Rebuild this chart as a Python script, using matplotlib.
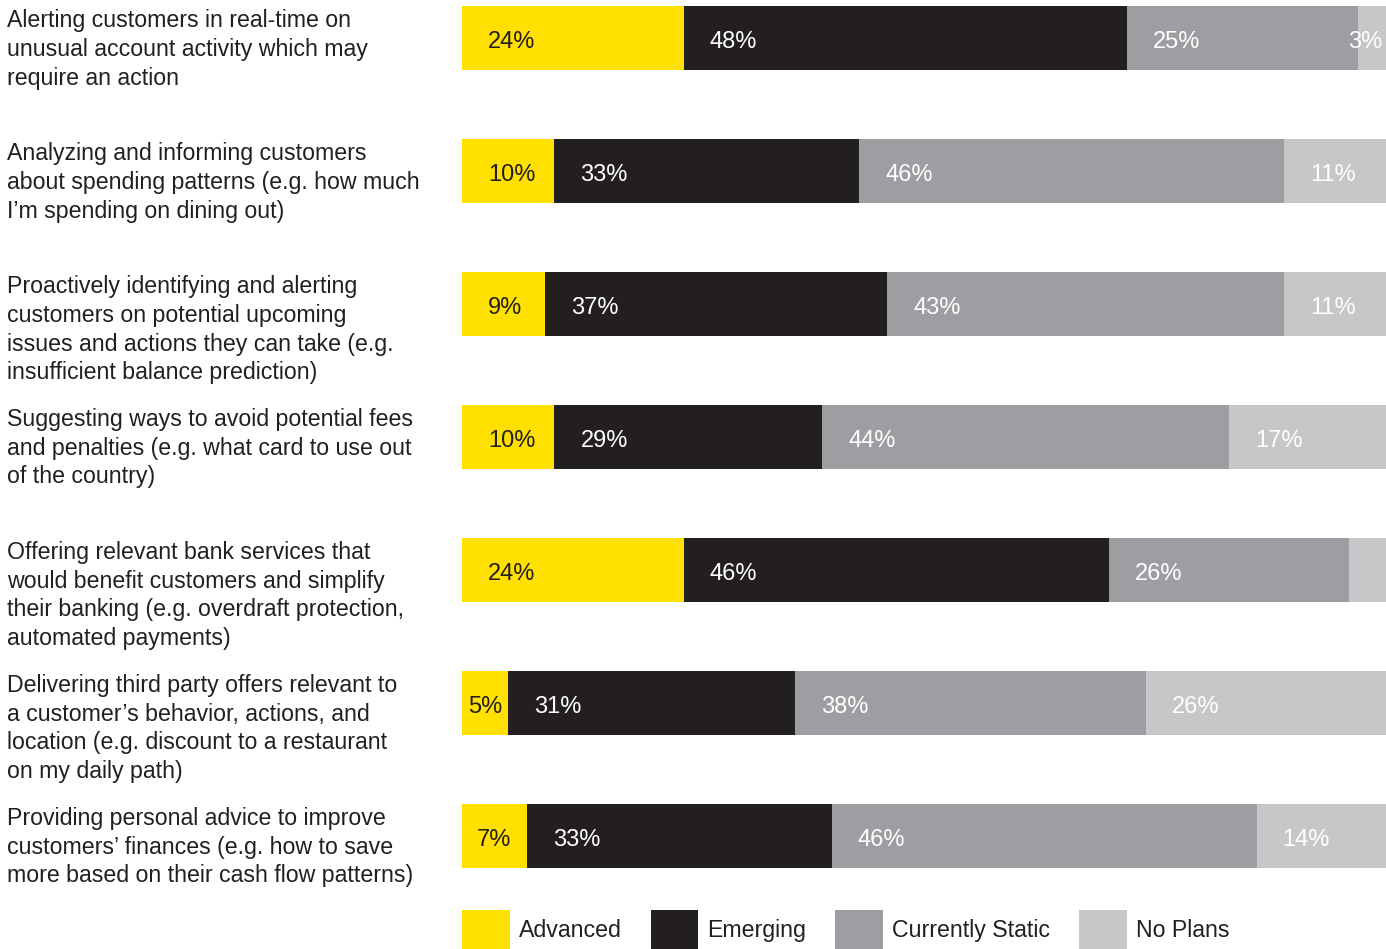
import matplotlib
matplotlib.use("Agg")
import matplotlib.pyplot as plt
from matplotlib.patches import Patch
from matplotlib.transforms import blended_transform_factory

plt.rcParams['font.family'] = ['Liberation Sans', 'DejaVu Sans']

categories = [
    "Alerting customers in real-time on\nunusual account activity which may\nrequire an action",
    "Analyzing and informing customers\nabout spending patterns (e.g. how much\nI\u2019m spending on dining out)",
    "Proactively identifying and alerting\ncustomers on potential upcoming\nissues and actions they can take (e.g.\ninsufficient balance prediction)",
    "Suggesting ways to avoid potential fees\nand penalties (e.g. what card to use out\nof the country)",
    "Offering relevant bank services that\nwould benefit customers and simplify\ntheir banking (e.g. overdraft protection,\nautomated payments)",
    "Delivering third party offers relevant to\na customer\u2019s behavior, actions, and\nlocation (e.g. discount to a restaurant\non my daily path)",
    "Providing personal advice to improve\ncustomers\u2019 finances (e.g. how to save\nmore based on their cash flow patterns)",
]

series_names = ["Advanced", "Emerging", "Currently Static", "No Plans"]
advanced = [24, 10, 9, 10, 24, 5, 7]
emerging = [48, 33, 37, 29, 46, 31, 33]
static = [25, 46, 43, 44, 26, 38, 46]
no_plans = [3, 11, 11, 17, 4, 26, 14]
# segments without a printed value
unlabeled = {(4, 3)}

colors = ["#FFE000", "#231F20", "#9D9EA2", "#C6C7C9"]
text_colors = ["#231F20", "white", "white", "white"]

W, H = 1386, 949
fig = plt.figure(figsize=(W / 100, H / 100), dpi=100)

bar_h = 0.482
n = len(categories)
ax = fig.add_axes([462 / W, 1 - 868 / H, 1 - 462 / W, (868 - 6) / H])
ax.set_xlim(0, 100)
ax.set_ylim(n - 1 + bar_h / 2, -bar_h / 2)
ax.axis("off")

series = [advanced, emerging, static, no_plans]
px_per_unit = (W - 462) / 100.0
fs_val = 17
lefts = [0] * n
for s, (vals, col, tcol) in enumerate(zip(series, colors, text_colors)):
    ax.barh(range(n), vals, left=lefts, height=bar_h, color=col,
            edgecolor="none", label=series_names[s])
    for i, v in enumerate(vals):
        if (i, s) in unlabeled:
            continue
        width_px = v * px_per_unit
        y = i + 0.03
        if width_px < 40 and s == len(series) - 1:
            # too narrow for its label: keep it inside the bar end
            ax.text(100 - 4 / px_per_unit, y, f"{v}%", ha="right",
                    va="center", color=tcol, fontsize=fs_val)
        elif width_px < 70:
            ax.text(lefts[i] + v / 2, y, f"{v}%", ha="center",
                    va="center", color=tcol, fontsize=fs_val)
        else:
            ax.text(lefts[i] + 26 / px_per_unit, y, f"{v}%",
                    ha="left", va="center", color=tcol, fontsize=fs_val)
    lefts = [l + v for l, v in zip(lefts, vals)]

trans = blended_transform_factory(fig.transFigure, ax.transData)
for i, cat in enumerate(categories):
    fig.text(7 / W, i - bar_h / 2 + 0.02, cat, transform=trans, ha="left",
             va="top", fontsize=16.7, color="#231F20", linespacing=1.33)

handles = [Patch(facecolor=c, edgecolor="none") for c in colors]
fig.legend(handles, series_names, loc="lower left",
           bbox_to_anchor=(462 / W, 0.0), ncol=4, frameon=False,
           fontsize=16.7, handlelength=2.05, handleheight=2.2,
           handletextpad=0.4, columnspacing=1.25, borderpad=0,
           borderaxespad=0, labelcolor="#231F20")

fig.savefig("out.png", dpi=100)
